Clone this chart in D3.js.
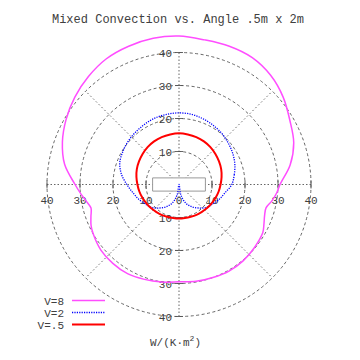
<!DOCTYPE html>
<html>
<head>
<meta charset="utf-8">
<script src="https://cdn.jsdelivr.net/npm/d3@7"></script>
<style>
  body { margin: 0; background: #fff; }
  text { font-family: 'Liberation Mono', 'DejaVu Sans Mono', monospace; fill: #404040; }
</style>
</head>
<body>
<div id="chart"></div>
<script>
// radial values (angle in degrees, counter-clockwise from +x)
const anglesV8 = [0, 10, 20, 30, 40, 50, 60, 70, 80, 90, 100, 110, 120, 130, 140, 150, 160, 170,
  180, 185, 190, 195, 200, 205, 210, 220, 230, 240, 250, 260, 270, 280, 290, 300, 310, 320,
  330, 335, 340, 345, 350, 355];
const valuesV8 = [30.6, 34.2, 37.0, 38.8, 41.2, 43.2, 44.4, 44.6, 44.5, 45.0, 45.0, 44.6, 44.0,
  42.7, 41.2, 39.5, 37.6, 35.2, 31.5, 30.0, 28.6, 27.6, 28.4, 29.4, 30.0, 30.9, 31.2, 31.2, 30.6,
  30.0, 29.5, 29.8, 30.0, 30.3, 30.2, 29.8, 29.3, 28.4, 27.6, 27.3, 28.6, 29.7];

const angles = [0, 10, 20, 30, 40, 50, 60, 70, 80, 90, 100, 110, 120, 130, 140, 150, 160, 170,
  180, 190, 200, 210, 220, 230, 240, 250, 260, 270, 280, 290, 300, 310, 320, 330, 340, 350];
const valuesV2 = [16.0, 17.0, 18.0, 18.8, 19.5, 20.2, 20.7, 21.2, 21.6, 21.7, 21.6, 21.4, 21.0,
  20.6, 20.2, 19.7, 19.1, 17.7, 15.8, 14.2, 13.0, 11.8, 10.8, 9.3, 7.8, 6.0, 3.2, 0.0, 3.2, 6.0,
  7.8, 9.3, 10.8, 11.8, 13.0, 14.2];
const valuesV05 = [12.6, 13.1, 13.6, 14.0, 14.4, 14.8, 15.1, 15.3, 15.4, 15.5, 15.4, 15.3, 15.1,
  14.8, 14.4, 14.0, 13.6, 13.1, 12.6, 12.2, 11.8, 11.4, 11.1, 10.8, 10.6, 10.4, 10.3, 10.3, 10.3,
  10.4, 10.6, 10.8, 11.1, 11.4, 11.8, 12.2];

const ringTicks = [10, 20, 30, 40];
const spokeAngles = [0, 45, 90, 135, 180, 225, 270, 315];
const xTickValues = [-40, -30, -20, -10, 0, 10, 20, 30, 40];
const yTickValues = [-40, -30, -20, -10, 10, 20, 30, 40];
const plate = [[-8, -2], [8, -2], [8, 2], [-8, 2]];

const series = [
  { label: 'V=8', a: anglesV8, r: valuesV8, color: '#ff4dff', width: 1.5, dash: null },
  { label: 'V=2', a: angles, r: valuesV2, color: '#0000ff', width: 1.3, dash: '1.2,1.2' },
  { label: 'V=.5', a: angles, r: valuesV05, color: '#ff0000', width: 2, dash: null },
];

const width = 360;
const height = 360;
const cx = 179;
const cy = 184.5;

const r = d3.scaleLinear().domain([0, 40]).range([0, 132]);
const x = d3.scaleLinear().domain([-40, 40]).range([cx - 132, cx + 132]);
const y = d3.scaleLinear().domain([-40, 40]).range([cy + 132, cy - 132]);

const svg = d3.select('#chart').append('svg')
  .attr('width', width)
  .attr('height', height);

svg.append('text')
  .attr('x', 178)
  .attr('y', 23)
  .attr('text-anchor', 'middle')
  .style('font-size', '12px')
  .text('Mixed Convection vs. Angle .5m x 2m');

const grid = svg.append('g')
  .attr('fill', 'none')
  .attr('stroke', '#555')
  .attr('stroke-width', 0.9);

grid.selectAll('circle')
  .data(ringTicks)
  .enter().append('circle')
  .attr('cx', cx)
  .attr('cy', cy)
  .attr('r', d => r(d))
  .attr('stroke-dasharray', '3,2.5');

grid.selectAll('line.spoke')
  .data(spokeAngles.filter(a => a % 90 !== 0))
  .enter().append('line')
  .attr('class', 'spoke')
  .attr('x1', cx)
  .attr('y1', cy)
  .attr('x2', a => cx + r(40) * Math.cos(a * Math.PI / 180))
  .attr('y2', a => cy - r(40) * Math.sin(a * Math.PI / 180))
  .attr('stroke-dasharray', '1.5,2.5');

// axes through the origin
grid.append('line')
  .attr('x1', x(-40)).attr('x2', x(40))
  .attr('y1', cy).attr('y2', cy)
  .attr('stroke-dasharray', '1.5,2');
grid.append('line')
  .attr('x1', cx).attr('x2', cx)
  .attr('y1', y(40)).attr('y2', y(-40))
  .attr('stroke-dasharray', '1.5,2');

// tick marks + labels
grid.selectAll('line.xt')
  .data(xTickValues)
  .enter().append('line')
  .attr('class', 'xt')
  .attr('x1', d => x(d)).attr('x2', d => x(d))
  .attr('y1', cy - 4).attr('y2', cy + 4);
grid.selectAll('line.yt')
  .data(yTickValues)
  .enter().append('line')
  .attr('class', 'yt')
  .attr('x1', cx - 4).attr('x2', cx + 4)
  .attr('y1', d => y(d)).attr('y2', d => y(d));

svg.selectAll('text.xl')
  .data(xTickValues)
  .enter().append('text')
  .attr('class', 'xl')
  .attr('x', d => x(d))
  .attr('y', cy + 19)
  .attr('text-anchor', 'middle')
  .style('font-size', '11px')
  .text(d => Math.abs(d));

svg.selectAll('text.yl')
  .data(yTickValues)
  .enter().append('text')
  .attr('class', 'yl')
  .attr('x', cx - 7)
  .attr('y', d => y(d) + 4)
  .attr('text-anchor', 'end')
  .style('font-size', '11px')
  .text(d => Math.abs(d));

// plate outline
svg.append('polygon')
  .attr('points', plate.map(p => [x(p[0]), y(p[1])].join(',')).join(' '))
  .attr('fill', '#fff')
  .attr('stroke', '#999')
  .attr('stroke-width', 1);

const radial = d3.lineRadial()
  .angle(d => (90 - d[0]) * Math.PI / 180)
  .radius(d => r(d[1]))
  .curve(d3.curveCatmullRomClosed.alpha(0.5));

svg.append('g')
  .attr('transform', `translate(${cx},${cy})`)
  .selectAll('path')
  .data(series)
  .enter().append('path')
  .attr('d', s => radial(s.a.map((a, i) => [a, s.r[i]])))
  .attr('fill', 'none')
  .attr('stroke', s => s.color)
  .attr('stroke-width', s => s.width)
  .attr('stroke-dasharray', s => s.dash);

// legend
const legend = svg.append('g');
series.forEach((s, i) => {
  const ly = 300.5 + i * 12;
  legend.append('text')
    .attr('x', 64)
    .attr('y', ly + 4)
    .attr('text-anchor', 'end')
    .style('font-size', '11px')
    .text(s.label);
  legend.append('line')
    .attr('x1', 72).attr('x2', 105)
    .attr('y1', ly).attr('y2', ly)
    .attr('stroke', s.color)
    .attr('stroke-width', s.width)
    .attr('stroke-dasharray', s.dash);
});

const xl = svg.append('text')
  .attr('x', 150)
  .attr('y', 346)
  .style('font-size', '11px');
xl.append('tspan').text('W/(K\u00b7m');
xl.append('tspan').attr('dy', -5).style('font-size', '8px').text('2');
xl.append('tspan').attr('dy', 5).text(')');
</script>
</body>
</html>
